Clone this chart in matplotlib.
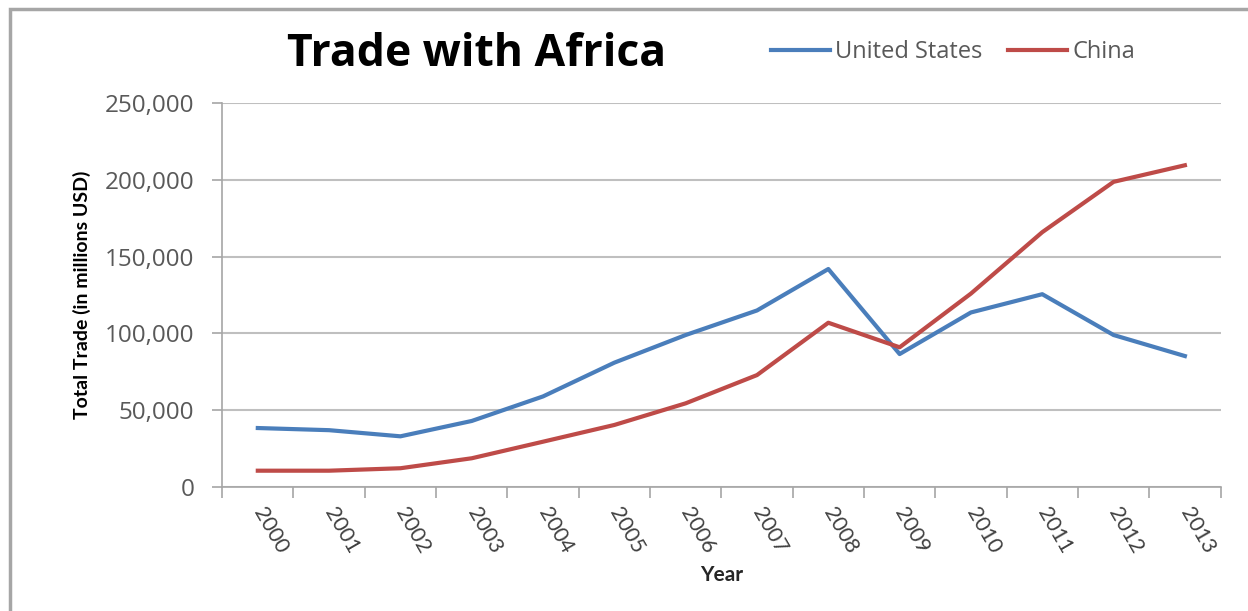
import matplotlib.pyplot as plt
from matplotlib.ticker import FuncFormatter, FixedLocator
from matplotlib.patches import Rectangle

years = ["2000", "2001", "2002", "2003", "2004", "2005", "2006",
         "2007", "2008", "2009", "2010", "2011", "2012", "2013"]
us = [38400, 37000, 33000, 43000, 59000, 81000, 99000,
      115000, 142000, 86600, 113700, 125600, 99000, 85300]
china = [10600, 10600, 12200, 18700, 29500, 40400, 54500,
         72900, 107000, 91000, 126000, 166000, 198800, 209600]

plt.rcParams['font.family'] = ['Open Sans', 'DejaVu Sans']

fig = plt.figure(figsize=(12.48, 6.11), dpi=100)
ax = fig.add_axes([0.178, 0.203, 0.8, 0.628])

# outer chart frame
fig.patches.append(Rectangle((0.008, -0.01), 1.1, 0.995, transform=fig.transFigure,
                             fill=False, edgecolor='#a6a6a6', linewidth=2.5))

x = list(range(len(years)))
ax.plot(x, us, color='#4a7ebb', linewidth=3, label='United States')
ax.plot(x, china, color='#be4b48', linewidth=3, label='China')

ax.set_xlim(-0.5, len(years) - 0.5)
ax.set_ylim(0, 250000)
ax.set_yticks(range(0, 250001, 50000))
ax.yaxis.set_major_formatter(FuncFormatter(lambda v, p: f"{int(v):,}"))
ax.grid(axis='y', color='#bfbfbf', linewidth=1.5)
ax.set_axisbelow(True)

# ticks between categories, labels at centres
ax.xaxis.set_major_locator(FixedLocator([i - 0.5 for i in range(len(years) + 1)]))
ax.xaxis.set_minor_locator(FixedLocator(x))
ax.set_xticklabels([], minor=False)
ax.set_xticklabels(years, minor=True, rotation=-60, ha='left', va='center',
                   rotation_mode='anchor', fontsize=15.5, color='#404040',
                   family='Lato')
ax.tick_params(axis='x', which='major', length=8, color='#a6a6a6', width=1.2)
ax.tick_params(axis='x', which='minor', length=0, pad=16)
ax.tick_params(axis='y', length=7, color='#a6a6a6', width=1.2, labelsize=17.5,
               labelcolor='#595959', pad=13)

for s in ['top', 'right']:
    ax.spines[s].set_visible(False)
for s in ['left', 'bottom']:
    ax.spines[s].set_color('#a6a6a6')
    ax.spines[s].set_linewidth(1.2)

ax.set_ylabel('Total Trade (in millions USD)', fontsize=14, fontweight='bold',
              family='Lato', labelpad=10)
ax.set_xlabel('Year', fontsize=15, fontweight='bold', color='#262626',
              family='Lato', labelpad=6)

fig.text(0.382, 0.911, 'Trade with Africa', fontsize=32, fontweight='bold',
         ha='center', va='center')

ax.legend(loc='center left', bbox_to_anchor=(0.601, 0.915),
          bbox_transform=fig.transFigure, ncol=2, frameon=False, fontsize=17,
          labelcolor='#595959', handlelength=2.5, handletextpad=0.2,
          columnspacing=1.1)

fig.savefig('out.png', dpi=100)
